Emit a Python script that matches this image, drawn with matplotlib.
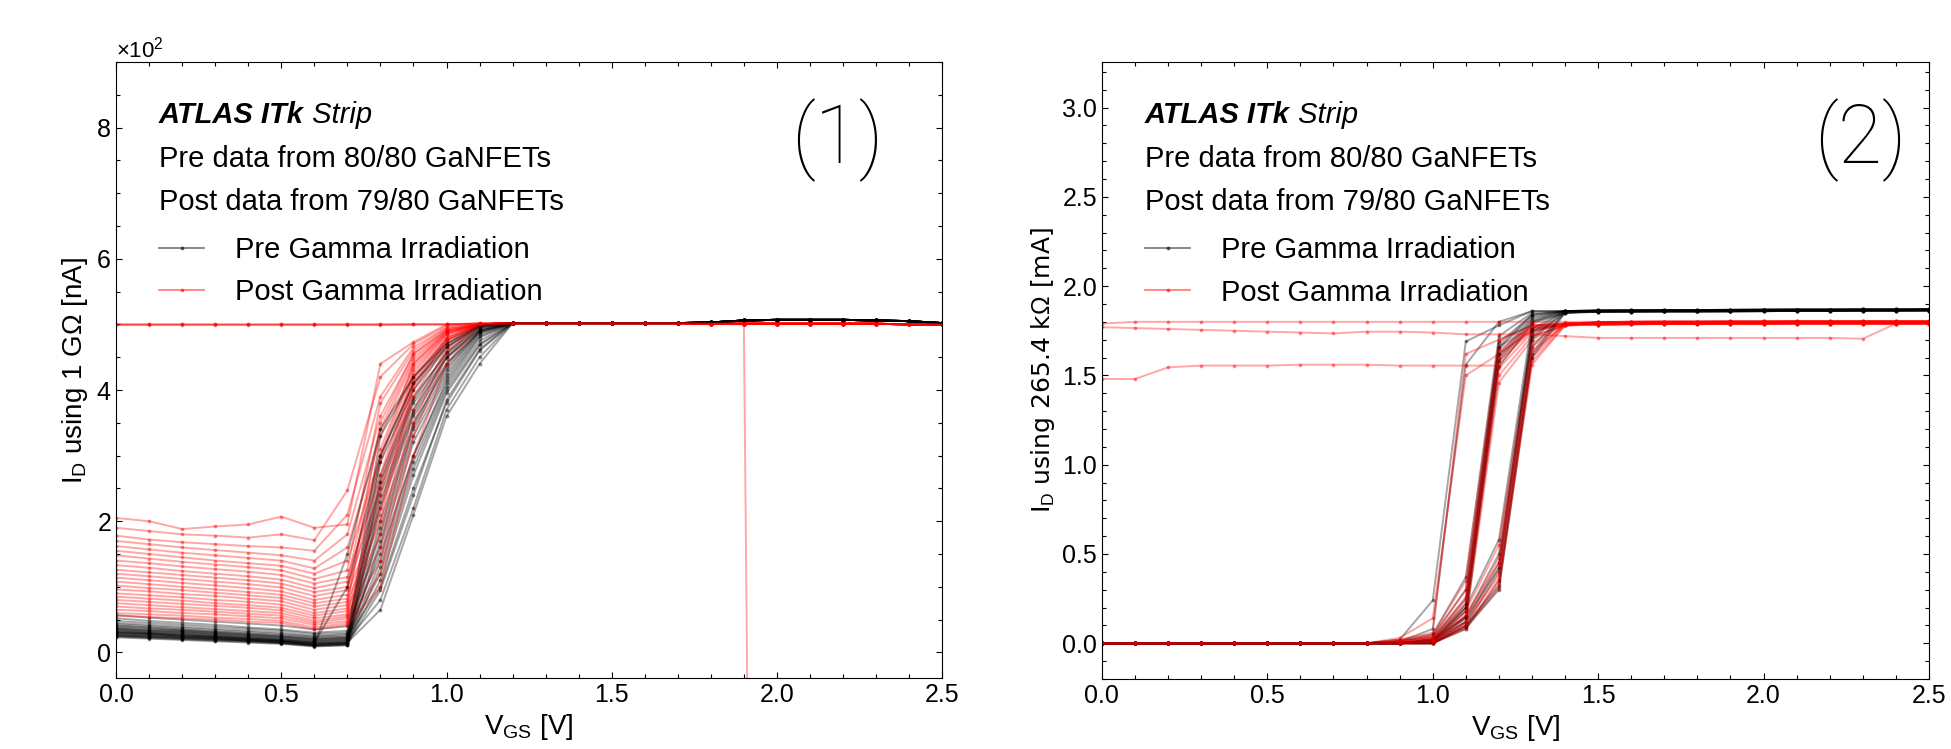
import numpy as np
import matplotlib.pyplot as plt
from matplotlib.lines import Line2D
from matplotlib.ticker import MultipleLocator

plt.rcParams['font.family'] = ['Liberation Sans', 'DejaVu Sans']
plt.rcParams['mathtext.fontset'] = 'custom'
plt.rcParams['mathtext.rm'] = 'Liberation Sans'
plt.rcParams['mathtext.it'] = 'Liberation Sans:italic'
plt.rcParams['mathtext.bf'] = 'Liberation Sans:bold'

# gate voltage scan [V]
vgs = [0.0, 0.1, 0.2, 0.3, 0.4, 0.5, 0.6, 0.7, 0.8, 0.9, 1.0, 1.1, 1.2,
       1.3, 1.4, 1.5, 1.6, 1.7, 1.8, 1.9, 2.0, 2.1, 2.2, 2.3, 2.4, 2.5]

# ---- panel (1): I_D [nA] through 1 GOhm ----
# values for VGS = 0.0 .. 1.2
pre1_head = [
    [57, 53, 50, 47, 44, 41, 35, 40, 250, 380, 450, 495, 502],
    [52, 48, 45, 42, 38, 35, 30, 33, 180, 340, 430, 490, 502],
    [48, 45, 42, 39, 36, 33, 28, 30, 300, 410, 470, 500, 502],
    [45, 42, 39, 36, 33, 30, 25, 28, 150, 300, 410, 480, 502],
    [43, 40, 37, 34, 31, 28, 24, 26, 220, 360, 440, 490, 502],
    [41, 38, 35, 32, 29, 26, 22, 24, 120, 280, 400, 470, 502],
    [40, 37, 34, 31, 28, 25, 21, 23, 270, 390, 455, 495, 502],
    [38, 35, 33, 30, 27, 24, 20, 22, 100, 250, 380, 460, 502],
    [37, 34, 32, 29, 26, 23, 19, 21, 200, 350, 435, 488, 502],
    [36, 33, 31, 28, 25, 22, 18, 20, 330, 420, 475, 500, 502],
    [35, 32, 30, 27, 24, 21, 17, 19, 160, 320, 420, 485, 502],
    [34, 31, 29, 26, 23, 20, 16, 18, 80, 220, 370, 450, 502],
    [33, 30, 28, 25, 22, 19, 15, 17, 240, 370, 450, 492, 502],
    [32, 29, 27, 24, 21, 18, 14, 16, 140, 300, 415, 482, 502],
    [31, 29, 26, 24, 21, 18, 14, 15, 65, 210, 360, 440, 502],
    [30, 28, 25, 23, 20, 17, 13, 15, 190, 345, 440, 490, 502],
    [29, 27, 24, 22, 19, 17, 12, 14, 110, 270, 395, 468, 502],
    [28, 26, 24, 21, 19, 16, 12, 14, 290, 400, 465, 498, 502],
    [27, 25, 23, 21, 18, 16, 11, 13, 170, 330, 425, 487, 502],
    [26, 24, 22, 20, 18, 15, 11, 13, 95, 240, 385, 462, 502],
    [25, 23, 21, 19, 17, 14, 10, 12, 230, 365, 448, 492, 502],
    [24, 22, 20, 18, 16, 14, 10, 11, 130, 290, 405, 475, 502],
    [23, 21, 19, 17, 15, 13, 9, 11, 260, 385, 458, 496, 502],
    [26, 24, 22, 20, 18, 16, 12, 150, 340, 420, 470, 498, 502],
    [30, 28, 26, 23, 21, 19, 15, 100, 300, 410, 465, 497, 502],
]
post1_head = [
    [205, 200, 188, 192, 195, 207, 190, 195, 440, 473, 500, 502, 502],
    [190, 185, 180, 178, 175, 180, 171, 247, 420, 470, 498, 502, 502],
    [178, 172, 168, 165, 162, 160, 155, 210, 390, 465, 495, 500, 502],
    [170, 165, 160, 156, 152, 148, 140, 180, 360, 455, 492, 500, 502],
    [162, 157, 152, 148, 144, 140, 128, 160, 330, 445, 490, 500, 502],
    [155, 150, 145, 140, 136, 132, 120, 140, 300, 440, 488, 500, 502],
    [148, 143, 138, 134, 130, 125, 112, 125, 380, 460, 495, 500, 502],
    [140, 136, 131, 127, 123, 118, 105, 115, 270, 430, 485, 500, 502],
    [133, 129, 124, 120, 116, 111, 98, 108, 340, 450, 490, 500, 502],
    [126, 122, 118, 114, 110, 105, 92, 100, 250, 420, 480, 500, 502],
    [120, 116, 112, 108, 104, 99, 86, 95, 310, 440, 488, 500, 502],
    [114, 110, 106, 102, 98, 93, 80, 88, 220, 410, 478, 500, 502],
    [108, 104, 100, 96, 92, 88, 75, 82, 290, 435, 486, 500, 502],
    [102, 98, 95, 91, 87, 83, 70, 77, 200, 400, 475, 500, 502],
    [96, 93, 89, 86, 82, 78, 65, 72, 350, 455, 492, 500, 502],
    [90, 87, 84, 80, 77, 73, 60, 67, 180, 390, 470, 500, 502],
    [85, 82, 79, 75, 72, 68, 56, 63, 260, 425, 484, 500, 502],
    [80, 77, 74, 71, 68, 64, 52, 58, 160, 370, 465, 500, 502],
    [75, 72, 69, 66, 63, 60, 48, 55, 240, 415, 480, 500, 502],
    [70, 67, 65, 62, 59, 56, 45, 52, 140, 350, 460, 500, 502],
    [65, 63, 60, 58, 55, 52, 42, 48, 210, 405, 476, 500, 502],
    [60, 58, 56, 53, 51, 48, 38, 45, 120, 330, 455, 500, 502],
    [56, 54, 52, 50, 47, 45, 35, 42, 100, 300, 440, 498, 502],
    [500, 500, 500, 500, 500, 500, 500, 500, 500, 500, 500, 501, 502],
    [499, 499, 499, 499, 499, 499, 499, 499, 499, 500, 500, 501, 502],
]
# values for VGS = 1.3 .. 2.5
pre1_tail = [502, 502, 502, 502, 502, 503, 506, 507, 507, 507, 506, 505, 502]
post1_tail = [502, 502, 502, 502, 502, 501, 501, 501, 501, 501, 501, 500, 500]
# one post device collapses after 1.9 V
post1_broken = [500, 500, 500, 500, 500, 500, 500, 500, 500, 500, 500, 500, 501,
                501, 501, 501, 501, 501, 501, 500, -4900,
                np.nan, np.nan, np.nan, np.nan, np.nan]

# ---- panel (2): I_D [mA] through 265.4 kOhm ----
off2 = [0.0, 0.0, 0.0, 0.0, 0.0, 0.0, 0.0, 0.0, 0.0]   # VGS = 0.0 .. 0.8
# values for VGS = 0.9 .. 1.4
pre2_rise = [
    [0.02, 0.24, 1.69, 1.78, 1.86, 1.86],
    [0.01, 0.08, 1.56, 1.80, 1.86, 1.86],
    [0.01, 0.05, 0.37, 1.72, 1.85, 1.86],
    [0.01, 0.04, 0.30, 1.68, 1.84, 1.86],
    [0.00, 0.03, 0.25, 1.65, 1.83, 1.86],
    [0.00, 0.02, 0.20, 1.62, 1.82, 1.86],
    [0.00, 0.02, 0.15, 1.58, 1.80, 1.85],
    [0.00, 0.01, 0.12, 1.55, 1.79, 1.85],
    [0.00, 0.02, 0.22, 1.66, 1.84, 1.86],
    [0.00, 0.01, 0.18, 1.60, 1.81, 1.86],
    [0.00, 0.01, 0.20, 0.58, 1.80, 1.86],
    [0.00, 0.01, 0.15, 0.50, 1.76, 1.86],
    [0.00, 0.00, 0.12, 0.45, 1.72, 1.85],
    [0.00, 0.00, 0.10, 0.40, 1.70, 1.86],
    [0.00, 0.00, 0.08, 0.35, 1.66, 1.85],
    [0.00, 0.00, 0.10, 0.32, 1.62, 1.86],
    [0.00, 0.01, 0.14, 0.42, 1.74, 1.86],
    [0.00, 0.00, 0.09, 0.30, 1.60, 1.85],
]
post2_rise = [
    [0.03, 0.14, 1.50, 1.62, 1.75, 1.79],
    [0.02, 0.06, 1.62, 1.70, 1.78, 1.79],
    [0.02, 0.05, 0.35, 1.70, 1.78, 1.79],
    [0.01, 0.04, 0.30, 1.66, 1.77, 1.78],
    [0.01, 0.03, 0.26, 1.62, 1.76, 1.79],
    [0.01, 0.03, 0.22, 1.58, 1.75, 1.78],
    [0.00, 0.02, 0.18, 1.54, 1.74, 1.79],
    [0.00, 0.02, 0.15, 1.50, 1.72, 1.78],
    [0.00, 0.01, 0.12, 1.46, 1.70, 1.79],
    [0.00, 0.02, 0.20, 1.60, 1.76, 1.78],
    [0.01, 0.03, 0.24, 1.64, 1.77, 1.79],
    [0.00, 0.01, 0.18, 0.55, 1.72, 1.78],
    [0.00, 0.01, 0.14, 0.48, 1.68, 1.79],
    [0.00, 0.00, 0.11, 0.42, 1.64, 1.78],
    [0.00, 0.00, 0.09, 0.36, 1.60, 1.79],
    [0.00, 0.00, 0.08, 0.31, 1.56, 1.78],
    [0.00, 0.01, 0.12, 0.38, 1.62, 1.79],
    [0.00, 0.00, 0.10, 0.33, 1.58, 1.78],
    [0.00, 0.01, 0.16, 0.45, 1.66, 1.79],
]
# saturated levels for VGS = 1.5 .. 2.5 (a few device groups)
pre2_tails = [
    [1.856, 1.857, 1.858, 1.858, 1.859, 1.860, 1.861, 1.861, 1.862, 1.862, 1.863],
    [1.860, 1.861, 1.862, 1.862, 1.863, 1.864, 1.865, 1.865, 1.866, 1.866, 1.867],
    [1.864, 1.865, 1.866, 1.866, 1.867, 1.868, 1.869, 1.869, 1.870, 1.870, 1.871],
]
post2_tails = [
    [1.785, 1.787, 1.788, 1.788, 1.789, 1.789, 1.790, 1.790, 1.790, 1.790, 1.790],
    [1.792, 1.794, 1.795, 1.795, 1.796, 1.796, 1.797, 1.797, 1.797, 1.797, 1.797],
    [1.798, 1.800, 1.801, 1.801, 1.802, 1.802, 1.803, 1.803, 1.803, 1.803, 1.803],
]
# post devices that were already on at 0 V
post2_stuck = [
    [1.79, 1.80, 1.80, 1.80, 1.80, 1.80, 1.80, 1.80, 1.80, 1.80, 1.80, 1.80, 1.80,
     1.80, 1.80, 1.80, 1.80, 1.80, 1.80, 1.80, 1.80, 1.80, 1.80, 1.80, 1.80, 1.80],
    [1.77, 1.765, 1.76, 1.755, 1.75, 1.745, 1.74, 1.735, 1.745, 1.745, 1.74, 1.73, 1.73,
     1.73, 1.72, 1.71, 1.71, 1.71, 1.71, 1.71, 1.71, 1.71, 1.71, 1.705, 1.79, 1.795],
    [1.48, 1.48, 1.545, 1.555, 1.555, 1.555, 1.56, 1.56, 1.56, 1.555, 1.555, 1.555, 1.555,
     1.78, 1.79, 1.795, 1.797, 1.798, 1.798, 1.799, 1.80, 1.80, 1.80, 1.80, 1.80, 1.80],
]

pre1 = [c + pre1_tail for c in pre1_head]
post1 = [c + post1_tail for c in post1_head] + [post1_broken]
pre2 = [off2 + c + pre2_tails[i % 3] for i, c in enumerate(pre2_rise)]
post2 = [off2 + c + post2_tails[i % 3] for i, c in enumerate(post2_rise)] + post2_stuck


def draw_curves(ax, pre, post):
    # interleave pre and post devices as they were plotted
    n = max(len(pre), len(post))
    for i in range(n):
        if i < len(pre):
            ax.plot(vgs, pre[i], color='k', lw=1.4, alpha=0.35, marker='.', ms=3.5)
        if i < len(post):
            ax.plot(vgs, post[i], color='r', lw=1.4, alpha=0.35, marker='.', ms=3.5)


def style_axes(ax):
    ax.set_xlim(0, 2.5)
    ax.xaxis.set_major_locator(MultipleLocator(0.5))
    ax.xaxis.set_minor_locator(MultipleLocator(0.1))
    ax.tick_params(which='both', direction='in', top=True, right=True, labelsize=18)
    ax.tick_params(which='major', length=4.5, width=0.8)
    ax.tick_params(which='minor', length=3, width=0.8)
    ax.set_xlabel(r'V$_{\mathrm{GS}}$ [V]', fontsize=20)


def add_labels(ax, tag):
    t1 = ax.text(0.052, 0.901, 'ATLAS ITk', transform=ax.transAxes, fontsize=21,
                 fontweight='bold', fontstyle='italic', va='baseline')
    ax.annotate(' Strip', xy=(1, 0), xycoords=t1, fontsize=21, fontstyle='italic',
                va='bottom')
    ax.text(0.052, 0.830, 'Pre data from 80/80 GaNFETs', transform=ax.transAxes,
            fontsize=21, va='baseline')
    ax.text(0.052, 0.760, 'Post data from 79/80 GaNFETs', transform=ax.transAxes,
            fontsize=21, va='baseline')
    handles = [Line2D([], [], color='k', lw=1.3, alpha=0.5, marker='.', ms=3.5),
               Line2D([], [], color='r', lw=1.3, alpha=0.5, marker='.', ms=3.5)]
    ax.legend(handles, ['Pre Gamma Irradiation', 'Post Gamma Irradiation'],
              loc='upper left', bbox_to_anchor=(0.052, 0.718), frameon=False,
              fontsize=21, handlelength=1.55, handletextpad=1.05, labelspacing=0.5,
              borderpad=0, borderaxespad=0)
    ax.text(tag[1], 0.873, tag[0], transform=ax.transAxes, fontsize=58,
            family='Roboto', fontweight='light', ha='center', va='center')


fig = plt.figure(figsize=(19.51, 7.49), dpi=100)
ax1 = fig.add_axes([0.0595, 0.0948, 0.4234, 0.8224])
ax2 = fig.add_axes([0.5648, 0.0935, 0.4239, 0.8237])

draw_curves(ax1, pre1, post1)
style_axes(ax1)
ax1.set_ylim(-39, 900)
ax1.yaxis.set_major_locator(MultipleLocator(200))
ax1.yaxis.set_minor_locator(MultipleLocator(50))
ax1.ticklabel_format(axis='y', style='sci', scilimits=(0, 0), useMathText=True)
ax1.yaxis.get_offset_text().set_fontsize(16)
ax1.set_ylabel(r'I$_{\mathrm{D}}$ using 1 G$\Omega$ [nA]', fontsize=20)
add_labels(ax1, ('(1)', 0.873))

draw_curves(ax2, pre2, post2)
style_axes(ax2)
ax2.set_ylim(-0.2, 3.255)
ax2.yaxis.set_major_locator(MultipleLocator(0.5))
ax2.yaxis.set_minor_locator(MultipleLocator(0.1))
ax2.set_ylabel(r'I$_{\mathrm{D}}$ using 265.4 k$\Omega$ [mA]', fontsize=18,
               family='DejaVu Sans')
add_labels(ax2, ('(2)', 0.917))

fig.savefig('out.png', dpi=100)
